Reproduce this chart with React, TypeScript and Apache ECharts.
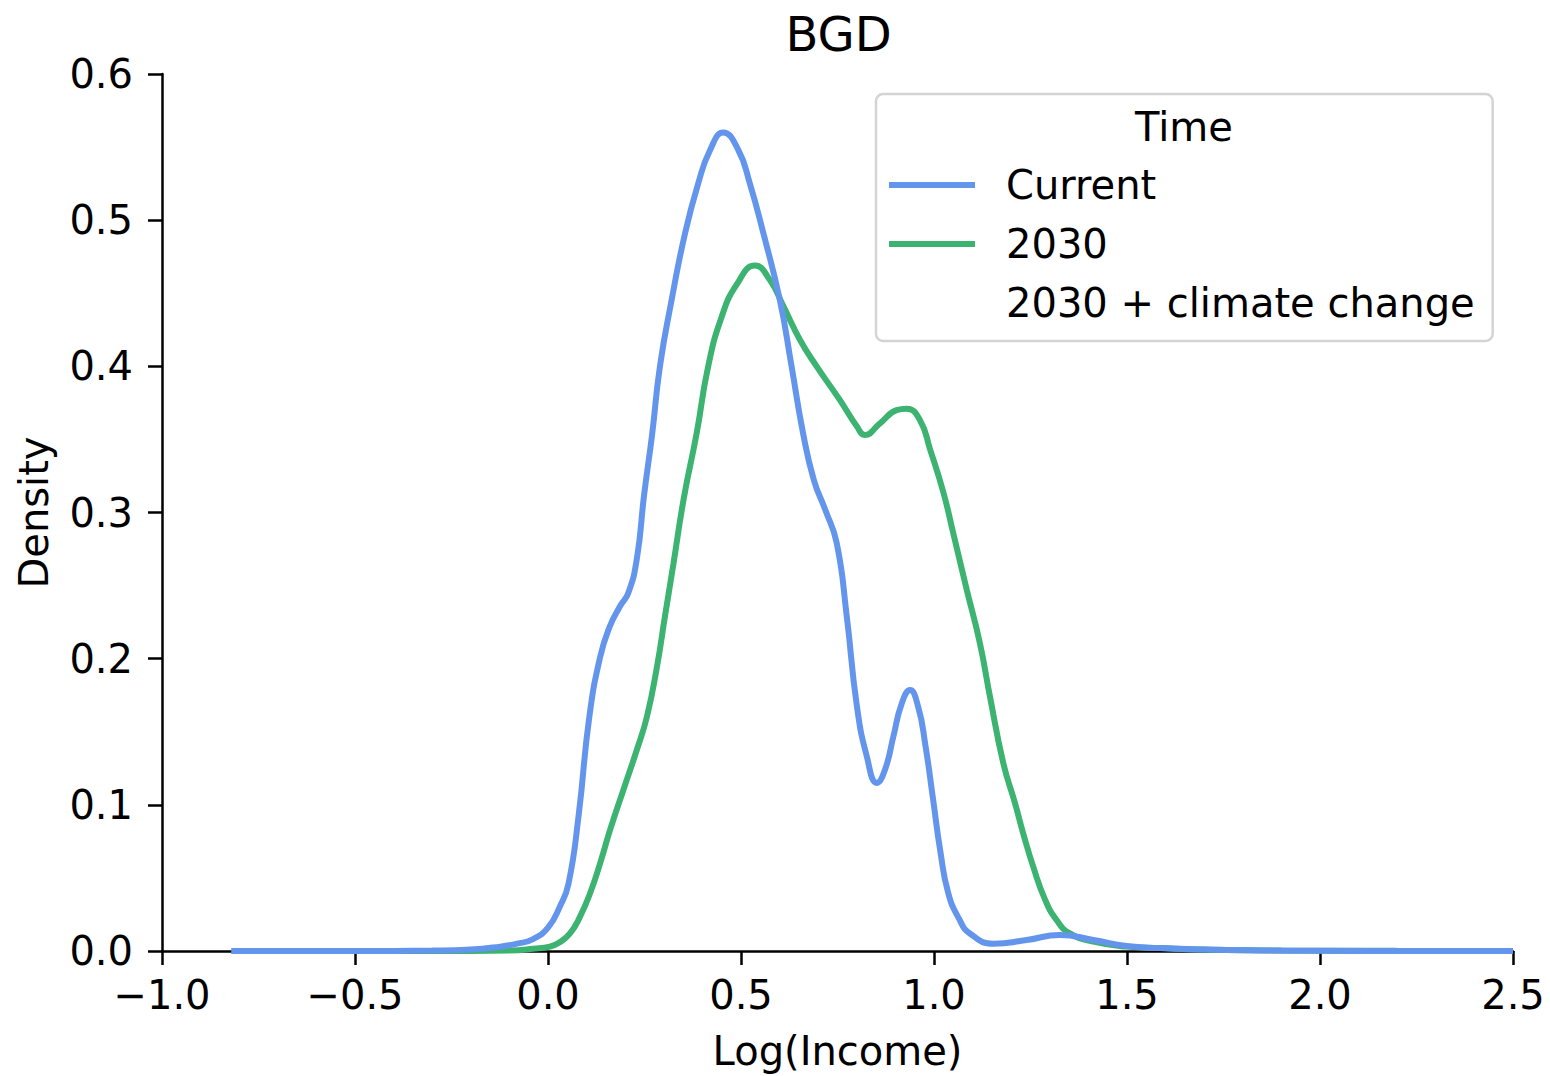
import React, { useEffect, useRef } from "react";
import * as echarts from "echarts";

const titleText = "BGD";
const xAxisName = "Log(Income)";
const yAxisName = "Density";
const legendTitle = "Time";
const seriesNames = ["Current", "2030", "2030 + climate change"];
const seriesColors = ["#6495ED", "#3CB371", "#D9A400"];

const xTickValues = [-1.0, -0.5, 0.0, 0.5, 1.0, 1.5, 2.0, 2.5];
const xTickLabels = ["\u22121.0", "\u22120.5", "0.0", "0.5", "1.0", "1.5", "2.0", "2.5"];
const yTickValues = [0.0, 0.1, 0.2, 0.3, 0.4, 0.5, 0.6];
const yTickLabels = ["0.0", "0.1", "0.2", "0.3", "0.4", "0.5", "0.6"];

const currentX = [-0.82, -0.5, -0.3, -0.2, -0.124, -0.08, -0.04, 0.0, 0.03, 0.053, 0.079, 0.107, 0.135, 0.16, 0.187, 0.208, 0.23, 0.249, 0.27, 0.29, 0.32, 0.355, 0.389, 0.42, 0.454, 0.493, 0.523, 0.558, 0.601, 0.631, 0.661, 0.689, 0.718, 0.748, 0.774, 0.8, 0.826, 0.852, 0.873, 0.895, 0.916, 0.938, 0.959, 0.977, 0.998, 1.016, 1.037, 1.065, 1.093, 1.154, 1.24, 1.326, 1.413, 1.499, 1.585, 1.7, 1.85, 2.0, 2.25, 2.5];
const currentY = [0, 0, 0.0003, 0.001, 0.003, 0.005, 0.008, 0.016, 0.03, 0.046, 0.092, 0.16, 0.201, 0.222, 0.236, 0.245, 0.268, 0.312, 0.354, 0.4, 0.445, 0.491, 0.525, 0.548, 0.56, 0.548, 0.525, 0.491, 0.445, 0.4, 0.354, 0.322, 0.302, 0.279, 0.229, 0.168, 0.133, 0.115, 0.124, 0.147, 0.169, 0.1785, 0.167, 0.142, 0.103, 0.069, 0.0395, 0.022, 0.012, 0.005, 0.0075, 0.011, 0.0075, 0.0034, 0.002, 0.001, 0.0004, 0.0002, 0, 0];

const futureX = [-0.82, -0.5, -0.2, -0.1, -0.038, 0.005, 0.03, 0.057, 0.083, 0.109, 0.135, 0.161, 0.195, 0.23, 0.256, 0.282, 0.303, 0.325, 0.352, 0.385, 0.415, 0.45, 0.489, 0.536, 0.575, 0.61, 0.653, 0.696, 0.756, 0.8, 0.821, 0.86, 0.903, 0.929, 0.964, 0.99, 1.024, 1.05, 1.085, 1.119, 1.145, 1.18, 1.21, 1.231, 1.257, 1.288, 1.318, 1.352, 1.413, 1.499, 1.585, 1.7, 1.9, 2.2, 2.5];
const futureY = [0, 0, 0, 0.0003, 0.0015, 0.003, 0.006, 0.012, 0.0235, 0.0395, 0.06, 0.083, 0.11, 0.1375, 0.16, 0.194, 0.229, 0.265, 0.31, 0.354, 0.4, 0.434, 0.456, 0.469, 0.459, 0.441, 0.418, 0.4, 0.377, 0.359, 0.353, 0.361, 0.37, 0.371, 0.363, 0.343, 0.314, 0.2857, 0.247, 0.2105, 0.174, 0.128, 0.101, 0.0805, 0.0577, 0.035, 0.021, 0.012, 0.0064, 0.003, 0.002, 0.001, 0.0003, 0.0001, 0];

const FONT = "'DejaVu Sans', 'Noto Sans', sans-serif";

function labelFor(values: number[], labels: string[], v: number): string {
  for (let i = 0; i < values.length; i++) {
    if (Math.abs(values[i] - v) < 1e-6) return labels[i];
  }
  return "";
}

function pairs(xs: number[], ys: number[]): number[][] {
  return xs.map((x, i) => [x, ys[i]]);
}

export default function App() {
  const ref = useRef<HTMLDivElement>(null);

  useEffect(() => {
    if (!ref.current) return;
    const chart = echarts.init(ref.current, undefined, { renderer: "svg" });
    const option: any = {
      animation: false,
      backgroundColor: "#ffffff",
      textStyle: { fontFamily: FONT },
      title: {
        text: titleText,
        left: 833.5,
        top: 5,
        textAlign: "center",
        textStyle: { fontFamily: FONT, fontSize: 48, fontWeight: "normal", color: "#000" },
      },
      grid: { left: 162, right: 37, top: 74, bottom: 125, containLabel: false },
      xAxis: {
        type: "value",
        min: -1.0,
        max: 2.5,
        interval: 0.5,
        name: xAxisName,
        nameLocation: "middle",
        nameGap: 80,
        nameTextStyle: { fontFamily: FONT, fontSize: 40, color: "#000" },
        axisLine: { show: true, onZero: false, lineStyle: { color: "#000", width: 2.5 } },
        axisTick: { show: true, length: 14, lineStyle: { color: "#000", width: 2.5 } },
        axisLabel: {
          margin: 24,
          fontFamily: FONT,
          fontSize: 40,
          color: "#000",
          formatter: (v: number) => labelFor(xTickValues, xTickLabels, v),
        },
        splitLine: { show: false },
      },
      yAxis: {
        type: "value",
        min: 0,
        max: 0.6,
        interval: 0.1,
        name: yAxisName,
        nameLocation: "middle",
        nameGap: 108,
        nameRotate: 90,
        nameTextStyle: { fontFamily: FONT, fontSize: 40, color: "#000" },
        axisLine: { show: true, onZero: false, lineStyle: { color: "#000", width: 2.5 } },
        axisTick: { show: true, length: 14, lineStyle: { color: "#000", width: 2.5 } },
        axisLabel: {
          margin: 29,
          fontFamily: FONT,
          fontSize: 40,
          color: "#000",
          formatter: (v: number) => labelFor(yTickValues, yTickLabels, v),
        },
        splitLine: { show: false },
      },
      legend: {
        orient: "vertical",
        left: 876,
        top: 94,
        padding: [67, 18, 14, 13],
        itemGap: 11,
        itemWidth: 86,
        itemHeight: 6,
        icon: "rect",
        borderColor: "#d4d4d4",
        borderWidth: 2.5,
        borderRadius: 7,
        backgroundColor: "rgba(255,255,255,0.8)",
        textStyle: {
          fontFamily: FONT,
          fontSize: 40,
          lineHeight: 48,
          color: "#000",
          padding: [0, 0, 0, 26],
        },
        data: [
          { name: seriesNames[0] },
          { name: seriesNames[1] },
          { name: seriesNames[2], itemStyle: { opacity: 0 }, lineStyle: { opacity: 0 } },
        ],
      },
      graphic: [
        {
          type: "text",
          left: 1175 - 40,
          top: 127 - 24,
          z: 100,
          style: {
            text: legendTitle,
            font: "40px 'DejaVu Sans', sans-serif",
            fill: "#000",
            width: 80,
            align: "center",
            lineHeight: 48,
          },
        },
      ],
      series: [
        {
          name: seriesNames[0],
          type: "line",
          data: pairs(currentX, currentY),
          smooth: 0.5,
          showSymbol: false,
          symbol: "none",
          lineStyle: { color: seriesColors[0], width: 6 },
          itemStyle: { color: seriesColors[0] },
          z: 3,
        },
        {
          name: seriesNames[1],
          type: "line",
          data: pairs(futureX, futureY),
          smooth: 0.5,
          showSymbol: false,
          symbol: "none",
          lineStyle: { color: seriesColors[1], width: 6 },
          itemStyle: { color: seriesColors[1] },
          z: 2,
        },
        {
          name: seriesNames[2],
          type: "line",
          data: [],
          showSymbol: false,
          symbol: "none",
          lineStyle: { color: seriesColors[2], width: 6 },
          itemStyle: { color: seriesColors[2] },
        },
      ],
    };
    chart.setOption(option);
    return () => {
      chart.dispose();
    };
  }, []);

  return (
    <div
      ref={ref}
      style={{ position: "absolute", left: 0, top: 0, width: 1550, height: 1076 }}
    />
  );
}
